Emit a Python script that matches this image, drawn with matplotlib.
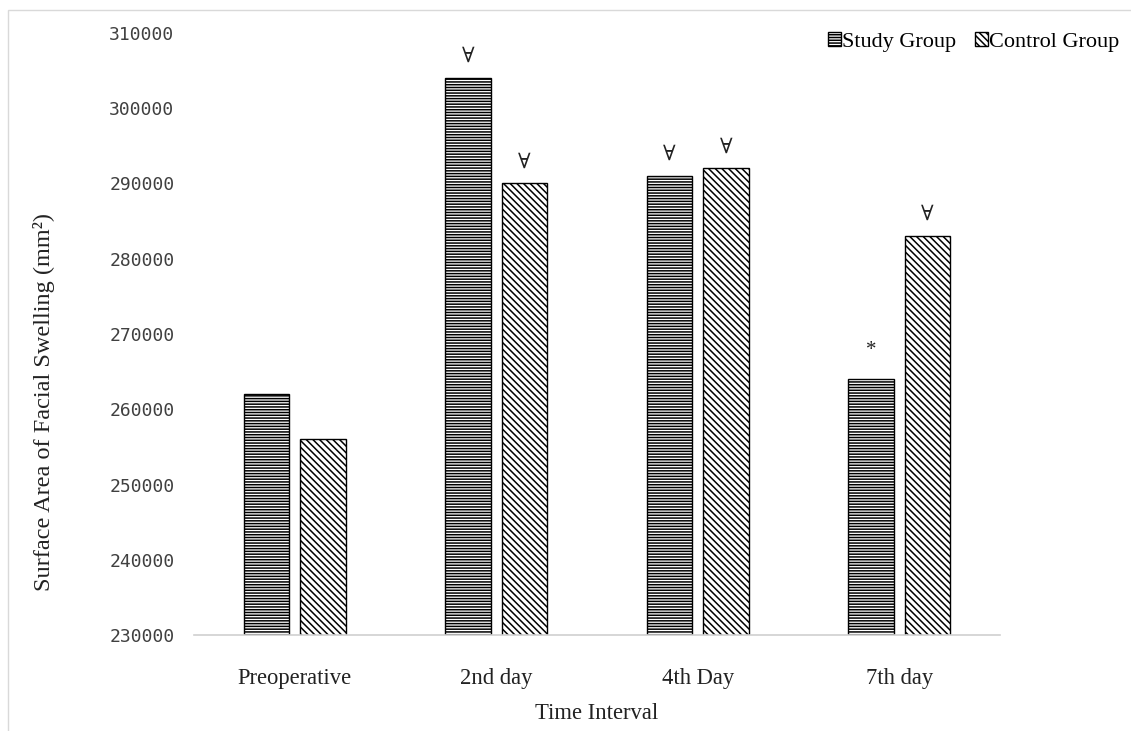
import numpy as np
import matplotlib
matplotlib.use('Agg')
import matplotlib.pyplot as plt
from matplotlib.patches import Rectangle

# 数据
categories = ['Preoperative', '2nd day', '4th Day', '7th day']
study_group = [262000, 304000, 291000, 264000]
control_group = [256000, 290000, 292000, 283000]
study_marks = ['', '∀', '∀', '*']
control_marks = ['', '∀', '∀', '∀']
y_ticks = [230000, 240000, 250000, 260000, 270000, 280000, 290000, 300000, 310000]

serif = ['Liberation Serif', 'DejaVu Serif']
plt.rcParams['hatch.linewidth'] = 1.1
plt.rcParams['hatch.color'] = 'black'

fig = plt.figure(figsize=(11.31, 7.31), dpi=100)
ax = fig.add_axes([0.1715, 0.1313, 0.7127, 0.8236])

x = np.arange(len(categories))
w = 0.225
b1 = ax.bar(x - 0.14, study_group, w, color='white', edgecolor='black', linewidth=1.0,
            hatch='------', label='Study Group')
b2 = ax.bar(x + 0.14, control_group, w, color='white', edgecolor='black', linewidth=1.0,
            hatch='\\\\\\\\\\', label='Control Group')

# 标记
for bars, marks in [(b1, study_marks), (b2, control_marks)]:
    for rect, m in zip(bars, marks):
        if not m:
            continue
        off = 14 if m == '*' else 8
        ax.annotate(m, (rect.get_x() + rect.get_width() / 2, rect.get_height()),
                    xytext=(0, off), textcoords='offset points', ha='center', va='bottom',
                    fontsize=15, family=serif, color='#222222')

ax.set_xlim(-0.5, 3.5)
ax.set_ylim(230000, 310000)
ax.set_yticks(y_ticks)
ax.set_yticklabels([str(t) for t in y_ticks], family='DejaVu Sans Mono', fontsize=13, color='#404040')
ax.set_xticks(x)
ax.set_xticklabels(categories, family=serif, fontsize=16.3, color='#222222')
ax.tick_params(length=0, axis='both')
ax.tick_params(axis='y', pad=14)
ax.tick_params(axis='x', pad=24)

for s in ['top', 'right', 'left']:
    ax.spines[s].set_visible(False)
ax.spines['bottom'].set_color('#d0d0d0')
ax.spines['bottom'].set_linewidth(1.2)

ax.set_xlabel('Time Interval', family=serif, fontsize=16.3, color='#222222', labelpad=10)
ax.set_ylabel('Surface Area of Facial Swelling (mm²)', family=serif, fontsize=17.5,
              color='#222222')
ax.yaxis.set_label_coords(-0.172, 0.387)

leg = fig.legend(handles=[b1, b2], loc='center right', bbox_to_anchor=(0.99, 0.943), ncol=2,
                 frameon=False, prop={'family': serif, 'size': 16}, handlelength=0.58,
                 handleheight=0.58, handletextpad=0.05, columnspacing=0.85,
                 borderpad=0, borderaxespad=0)

# 外框
fig.patches.append(Rectangle((0.007, -0.05), 1.1, 1.036, transform=fig.transFigure,
                             fill=False, edgecolor='#d9d9d9', linewidth=1.0))

fig.savefig('out.png', dpi=100)
